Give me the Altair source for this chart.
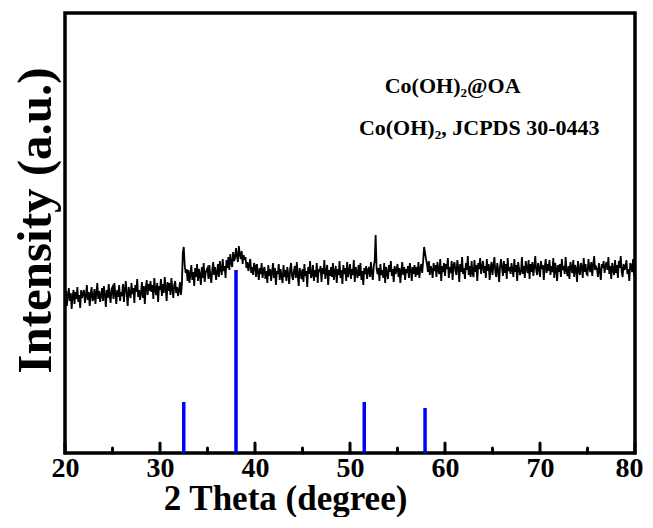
import altair as alt
import pandas as pd

# Measured XRD trace (intensity in arbitrary units), sampled every 0.1 degree from 20 to 80
intensity = [
    150, 162, 147, 158, 165, 152, 160, 144, 157, 163,   # 20
    149, 161, 154, 166, 151, 158, 145, 163, 155, 160,   # 21
    163, 150, 157, 168, 153, 161, 147, 159, 166, 152,   # 22
    155, 164, 149, 160, 170, 154, 162, 151, 158, 165,   # 23
    152, 167, 158, 146, 163, 155, 169, 157, 150, 164,   # 24
    166, 154, 170, 159, 149, 163, 156, 168, 152, 161,   # 25
    157, 169, 151, 164, 172, 158, 147, 166, 160, 155,   # 26
    170, 159, 165, 150, 168, 161, 174, 156, 163, 153,   # 27
    160, 171, 155, 167, 149, 165, 173, 158, 169, 162,   # 28
    172, 161, 168, 154, 175, 163, 158, 170, 151, 167,   # 29
    163, 174, 157, 169, 160, 176, 165, 152, 171, 162,   # 30
    170, 158, 175, 164, 155, 168, 172, 160, 166, 157,   # 31
    163, 171, 158, 168, 200, 206, 188, 180, 184, 172,   # 32
    183, 170, 179, 188, 173, 181, 167, 185, 176, 189,   # 33
    172, 184, 178, 168, 186, 175, 190, 171, 180, 183,   # 34
    185, 174, 188, 177, 170, 183, 191, 178, 186, 173,   # 35
    180, 189, 176, 192, 184, 178, 194, 182, 187, 175,   # 36
    193, 185, 196, 183, 199, 190, 186, 201, 192, 195,   # 37
    205, 197, 191, 207, 199, 194, 202, 189, 198, 193,   # 38
    196, 185, 191, 182, 188, 194, 180, 186, 178, 190,   # 39
    187, 176, 189, 181, 173, 185, 179, 190, 175, 183,   # 40
    186, 174, 182, 170, 188, 177, 184, 172, 181, 190,   # 41
    175, 185, 168, 182, 179, 189, 173, 184, 176, 170,   # 42
    188, 176, 183, 172, 186, 179, 169, 184, 190, 177,   # 43
    173, 182, 187, 175, 191, 178, 167, 185, 180, 174,   # 44
    184, 171, 189, 177, 182, 166, 186, 179, 192, 175,   # 45
    178, 188, 172, 183, 176, 190, 170, 184, 181, 187,   # 46
    171, 185, 179, 193, 174, 182, 188, 168, 183, 177,   # 47
    186, 176, 190, 173, 181, 187, 170, 184, 178, 192,   # 48
    175, 183, 169, 188, 179, 185, 172, 191, 176, 182,   # 49
    189, 174, 184, 178, 193, 171, 186, 180, 175, 188,   # 50
    177, 190, 173, 182, 168, 185, 179, 187, 174, 183,   # 51
    186, 176, 191, 180, 173, 187, 192, 218, 184, 179,   # 52
    185, 172, 189, 178, 183, 175, 190, 170, 186, 180,   # 53
    174, 188, 181, 192, 177, 184, 171, 187, 179, 183,   # 54
    189, 176, 185, 170, 182, 191, 178, 186, 173, 184,   # 55
    180, 187, 175, 190, 183, 172, 186, 179, 188, 176,   # 56
    186, 178, 191, 175, 184, 189, 180, 192, 206, 200,   # 57
    194, 189, 181, 192, 178, 187, 183, 175, 190, 182,   # 58
    188, 176, 191, 183, 179, 194, 172, 187, 181, 190,   # 59
    177, 189, 184, 195, 175, 186, 180, 192, 173, 188,   # 60
    191, 182, 178, 193, 185, 171, 189, 181, 196, 179,   # 61
    185, 174, 190, 183, 197, 178, 187, 176, 192, 180,   # 62
    176, 193, 181, 188, 172, 190, 184, 195, 179, 186,   # 63
    192, 180, 187, 175, 194, 182, 189, 173, 185, 191,   # 64
    178, 188, 196, 181, 176, 190, 183, 171, 187, 194,   # 65
    185, 177, 192, 180, 189, 174, 195, 182, 186, 179,   # 66
    190, 183, 176, 194, 181, 188, 172, 191, 184, 178,   # 67
    182, 196, 179, 187, 175, 192, 185, 180, 193, 174,   # 68
    189, 181, 191, 177, 186, 197, 183, 178, 190, 185,   # 69
    176, 192, 184, 188, 173, 186, 194, 180, 189, 182,   # 70
    193, 178, 187, 181, 195, 175, 190, 184, 172, 188,   # 71
    181, 189, 176, 194, 183, 187, 179, 196, 182, 177,   # 72
    187, 174, 191, 185, 180, 193, 176, 188, 184, 171,   # 73
    192, 183, 178, 190, 186, 175, 195, 181, 189, 179,   # 74
    178, 194, 185, 181, 191, 177, 188, 197, 183, 186,   # 75
    184, 176, 190, 182, 173, 189, 185, 192, 180, 187,   # 76
    191, 183, 196, 179, 187, 174, 190, 184, 178, 193,   # 77
    180, 188, 175, 192, 185, 197, 181, 176, 189, 183,   # 78
    186, 193, 179, 184, 172, 190, 187, 181, 194, 177,   # 79
    185,                                                # 80
]
two_theta = [round(20 + 0.1 * i, 1) for i in range(len(intensity))]

# Reference pattern Co(OH)2, JCPDS 30-0443
ref_pos = [32.5, 38.0, 51.5, 57.9]
ref_int = [51, 183, 51, 45]

major_ticks = [20, 30, 40, 50, 60, 70, 80]
minor_ticks = [25, 35, 45, 55, 65, 75]

labels = ["Co(OH)\u2082@OA", "Co(OH)\u2082, JCPDS 30-0443"]

FONT = "Liberation Serif"

trace_df = pd.DataFrame({"x": two_theta, "y": intensity})
ref_df = pd.DataFrame({"x": ref_pos, "y": [0] * len(ref_pos), "y2": ref_int})
tick_df = pd.DataFrame({
    "x": major_ticks + minor_ticks,
    "y": [0] * (len(major_ticks) + len(minor_ticks)),
    "y2": [10] * len(major_ticks) + [5] * len(minor_ticks),
})
text_df = pd.DataFrame({"x": [60.8, 63.6], "y": [360, 318], "label": labels})

x_scale = alt.Scale(domain=[20, 80], nice=False, zero=False)
y_scale = alt.Scale(domain=[0, 440], nice=False, zero=False)

x_axis = alt.Axis(
    values=major_ticks, ticks=False, domain=False, grid=False,
    labelFont=FONT, labelFontWeight="bold", labelFontSize=28, labelColor="black",
    labelPadding=1, labelFlush=False,
    labelOffset={"condition": {"test": "datum.value == 80", "value": -6}, "value": 0},
    title="2 Theta (degree)", titleFont=FONT, titleFontWeight="bold",
    titleFontSize=35, titleColor="black", titleX=220, titleY=56,
    titleAlign="center", titleBaseline="alphabetic",
)
y_axis = alt.Axis(
    labels=False, ticks=False, domain=False, grid=False,
    title="Intensity (a.u.)", titleFont=FONT, titleFontWeight="bold",
    titleFontSize=49, titleColor="black", titleX=-30, titleY=207,
    titleAngle=270, titleAlign="center", titleBaseline="middle",
)

X = lambda f: alt.X(f, type="quantitative", scale=x_scale, axis=x_axis)
Y = lambda f: alt.Y(f, type="quantitative", scale=y_scale, axis=y_axis)

sticks = alt.Chart(ref_df).mark_rule(color="#0000ff", strokeWidth=3.5).encode(
    x=X("x"), y=Y("y"), y2="y2"
)
ticks = alt.Chart(tick_df).mark_rule(color="black", strokeWidth=3, strokeCap="round").encode(
    x=X("x"), y=Y("y"), y2="y2"
)
trace = alt.Chart(trace_df).mark_line(color="black", strokeWidth=1.8).encode(
    x=X("x"), y=Y("y")
)
texts = alt.Chart(text_df).mark_text(
    font=FONT, fontWeight="bold", fontSize=22, color="black",
    align="center", baseline="alphabetic",
).encode(x=X("x"), y=Y("y"), text="label")

chart = alt.layer(sticks, ticks, trace, texts).properties(
    width=570, height=440,
    padding={"left": 57, "top": 5, "right": 10, "bottom": 64},
    autosize=alt.AutoSizeParams(type="none"),
    background="white",
).configure_view(stroke="black", strokeWidth=3.5)

chart.save("out.html", embed_options={"renderer": "svg", "actions": False})
